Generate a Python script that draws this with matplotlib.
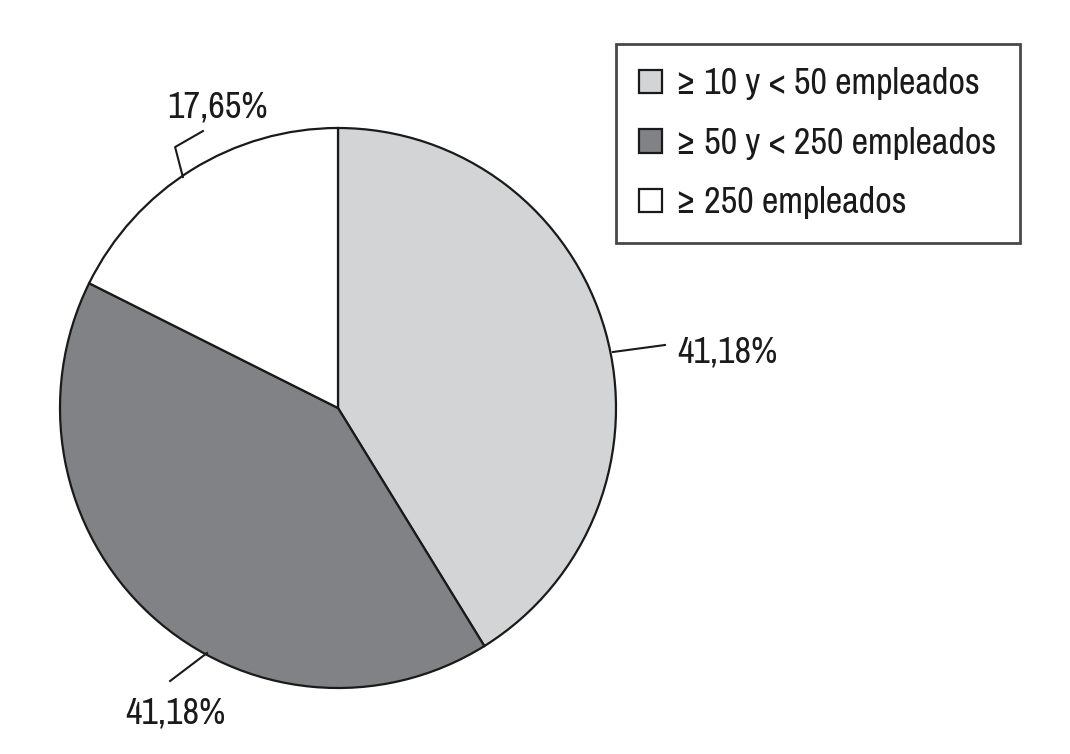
import matplotlib.pyplot as plt

# data
categories = ['≥ 10 y < 50 empleados', '≥ 50 y < 250 empleados', '≥ 250 empleados']
values = [41.18, 41.18, 17.65]
labels = ['41,18%', '41,18%', '17,65%']
colors = ['#d3d4d6', '#818285', '#ffffff']

plt.rcParams['font.family'] = ['Archivo Narrow', 'DejaVu Sans']

fig = plt.figure(figsize=(10.70, 7.54), dpi=100)
ax = fig.add_axes([60 / 1070, 1 - 688 / 754, 556 / 1070, 560 / 754])

wedges, _ = ax.pie(values, colors=colors, startangle=90, counterclock=False,
                   wedgeprops=dict(edgecolor='#1a1a1a', linewidth=1.6))
ax.set_xlim(-1, 1)
ax.set_ylim(-1, 1)
ax.set_aspect('auto')
ax.axis('off')

# leader lines and percentage labels (axes data coords)
line_kw = dict(color='#1a1a1a', lw=1.5, clip_on=False)
ax.plot([0.989, 1.176], [0.20, 0.225], **line_kw)
ax.text(1.219, 0.20, labels[0], fontsize=26, ha='left', va='center', color='#1a1a1a')

ax.plot([-0.471, -0.604], [-0.875, -0.975], **line_kw)
ax.text(-0.586, -1.089, labels[1], fontsize=26, ha='center', va='center', color='#1a1a1a')

ax.plot([-0.558, -0.586, -0.486], [0.825, 0.932, 0.989], **line_kw)
ax.text(-0.432, 1.075, labels[2], fontsize=26, ha='center', va='center', color='#1a1a1a')

leg = fig.legend(wedges, categories, loc='upper left',
                 bbox_to_anchor=(616 / 1070, 1 - 44 / 754),
                 fontsize=26, frameon=True, fancybox=False,
                 handlelength=0.62, handleheight=0.62, handletextpad=0.4,
                 labelspacing=0.73, borderpad=0.65, borderaxespad=0)
leg.get_frame().set_edgecolor('#1a1a1a')
leg.get_frame().set_linewidth(2)
for t in leg.get_texts():
    t.set_color('#1a1a1a')

fig.savefig('out.png', dpi=100)
